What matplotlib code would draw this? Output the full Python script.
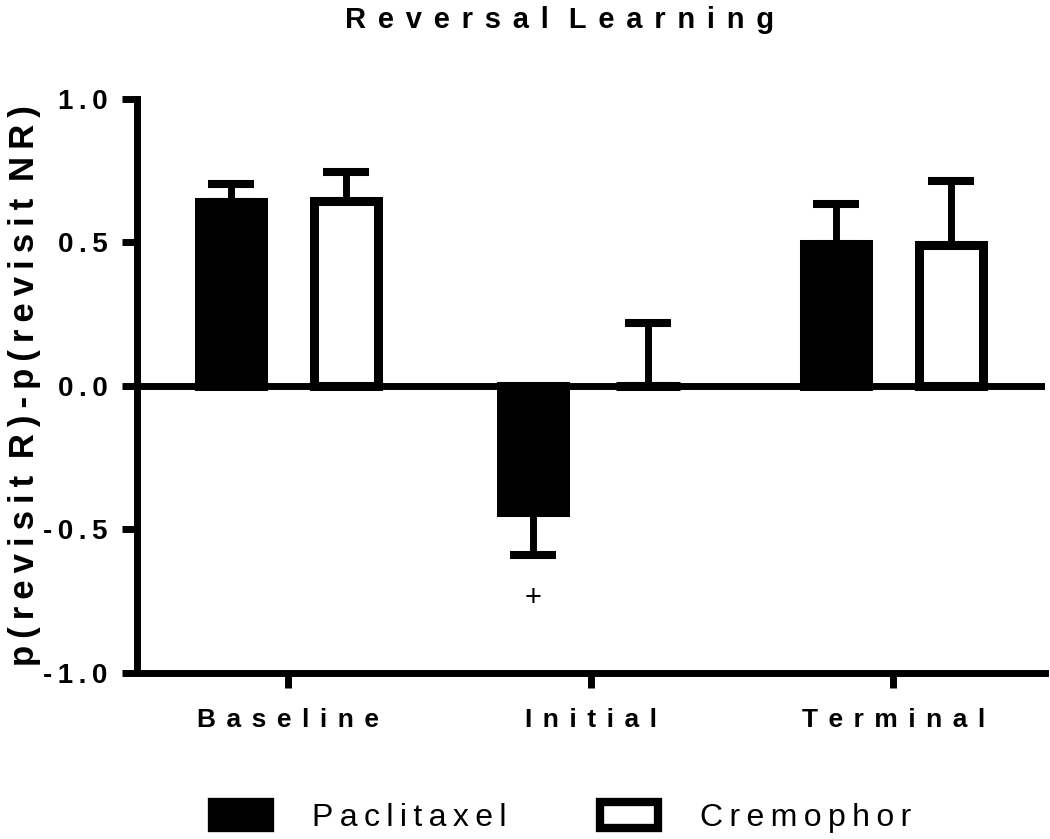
# Reversal Learning - barras com erro unilateral

import numpy as np
import matplotlib
matplotlib.use("Agg")
import matplotlib.pyplot as plt
from matplotlib.patches import Patch

plt.rcParams["font.family"] = ["Liberation Sans", "DejaVu Sans"]

# Dados
categorias = ["Baseline", "Initial", "Terminal"]
grupos = ["Paclitaxel", "Cremophor"]
media_paclitaxel = [0.64, -0.44, 0.495]
erro_paclitaxel = [0.065, 0.15, 0.14]
media_cremophor = [0.645, 0.0, 0.49]
erro_cremophor = [0.10, 0.22, 0.225]
valores_yticks = [-1.0, -0.5, 0.0, 0.5, 1.0]

# Espaçamento entre letras (o original usa letras bem espaçadas)
SEP_MEDIO = "\u2009\u2009"
SEP_FINO = "\u2009"


def espacar(texto, sep=SEP_MEDIO):
    """Insere espaços entre os caracteres de um texto."""
    palavras = texto.split(" ")
    return (sep + " ").join(sep.join(p) for p in palavras)


def erro_unilateral(media, erro):
    """Erro só para cima nas barras positivas e só para baixo nas negativas."""
    media = np.asarray(media)
    erro = np.asarray(erro)
    inferior = np.where(media < 0, erro, 0.0)
    superior = np.where(media < 0, 0.0, erro)
    return [inferior, superior]


x = np.arange(len(categorias))
desloc = 0.19
largura = 0.212
lw_borda = 6.5

fig = plt.figure(figsize=(10.5, 8.39), dpi=100)
ax = fig.add_axes([0.1305, 0.198, 0.8645, 0.684])

estilo_erro = dict(fmt="none", ecolor="black", elinewidth=5, capsize=16.5,
                   capthick=5.8, zorder=1)
ax.errorbar(x - desloc, media_paclitaxel,
            yerr=erro_unilateral(media_paclitaxel, erro_paclitaxel), **estilo_erro)
ax.errorbar(x + desloc, media_cremophor,
            yerr=erro_unilateral(media_cremophor, erro_cremophor), **estilo_erro)

ax.bar(x - desloc, media_paclitaxel, largura, color="black",
       edgecolor="black", linewidth=lw_borda, zorder=2)
ax.bar(x + desloc, media_cremophor, largura, color="white",
       edgecolor="black", linewidth=lw_borda, zorder=2)

ax.axhline(0, color="black", linewidth=5, zorder=3)

# marcador de significância
for xi, m, e in zip(x - desloc, media_paclitaxel, erro_paclitaxel):
    if m < 0:
        ax.text(xi, m - e - 0.15, "+", ha="center", va="center", fontsize=21)

ax.set_xlim(-0.5, 2.5)
ax.set_ylim(-1.0, 1.0)

ax.set_yticks(valores_yticks)
ax.set_yticklabels([espacar(f"{v:.1f}", SEP_FINO) for v in valores_yticks],
                   fontsize=20, fontweight="bold")
ax.set_xticks(x)
ax.set_xticklabels([espacar(c) for c in categorias], fontsize=19,
                   fontweight="bold")

ax.tick_params(axis="y", length=11, width=5, pad=10)
ax.tick_params(axis="x", length=11, width=5, pad=14)

for lado in ["top", "right"]:
    ax.spines[lado].set_visible(False)
for lado in ["left", "bottom"]:
    ax.spines[lado].set_linewidth(5)

fig.text(0.533, 0.9666, espacar("Reversal Learning"), ha="center",
         va="baseline", fontsize=21, fontweight="bold")
fig.text(0.023, 0.541, espacar("p(revisit R)-p(revisit NR)", SEP_FINO),
         rotation=90, ha="center", va="center", fontsize=25,
         fontweight="bold")

handles = [
    Patch(facecolor="black", edgecolor="black", linewidth=6),
    Patch(facecolor="white", edgecolor="black", linewidth=6),
]
fig.legend(handles, [espacar(g, SEP_FINO) for g in grupos], loc="center",
           bbox_to_anchor=(0.535, 0.026), ncol=2, frameon=False, fontsize=23,
           handlelength=1.8, handleheight=0.9, handletextpad=1.32,
           columnspacing=2.95)

fig.savefig("out.png", dpi=100)
